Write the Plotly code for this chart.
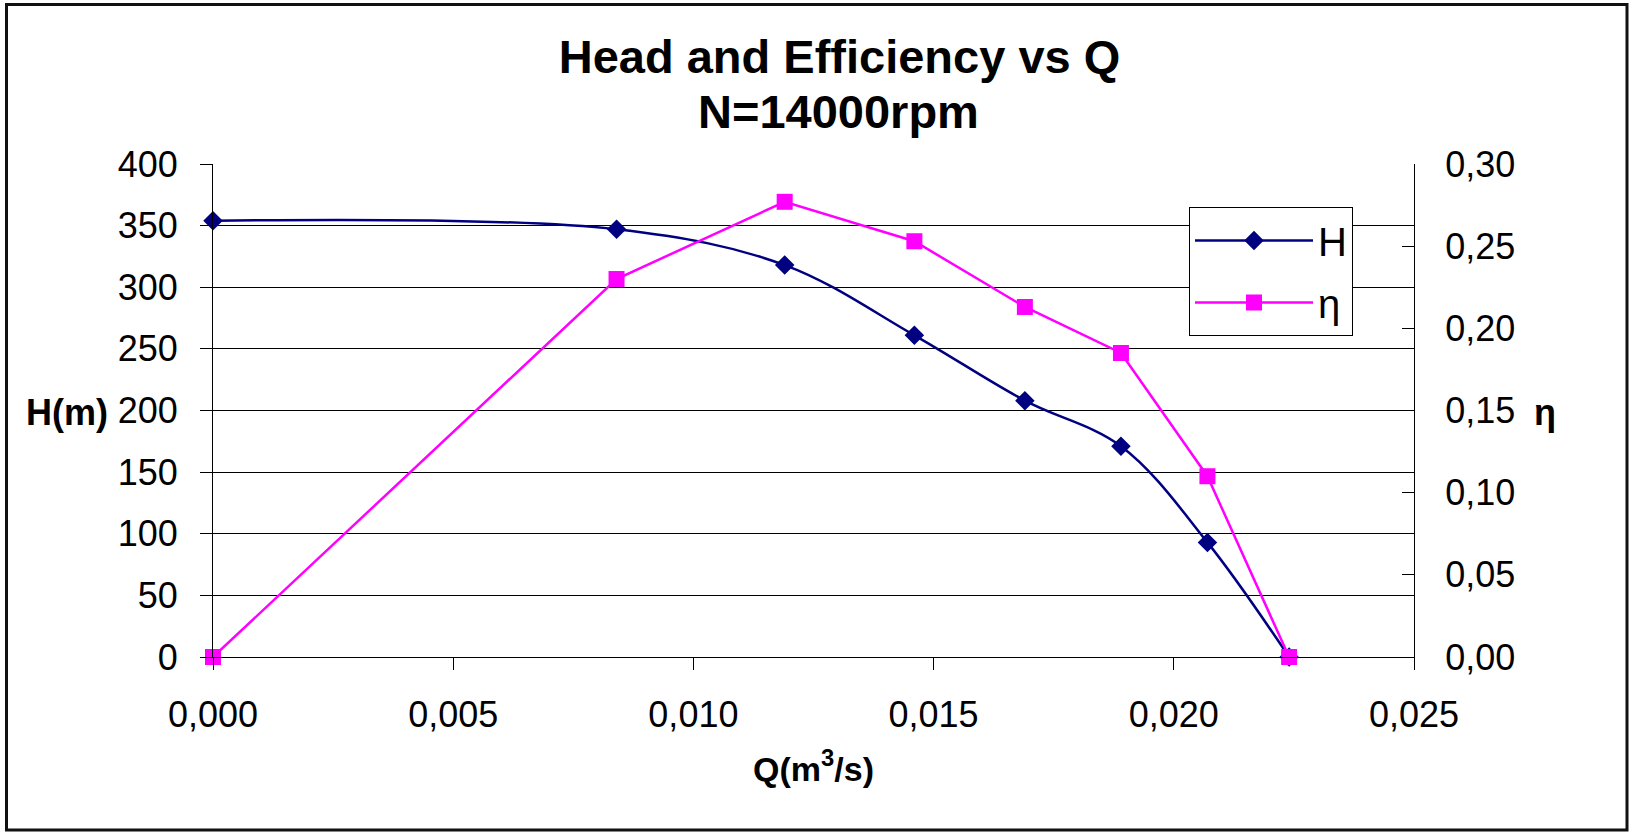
import plotly.graph_objects as go

# ---- data ----
Q = [0.0, 0.0084, 0.0119, 0.0146, 0.0169, 0.0189, 0.0207, 0.0224]
H = [354, 347, 318, 261, 208, 171, 93, 0]
ETA = [0.0, 0.230, 0.277, 0.253, 0.213, 0.185, 0.110, 0.0]

x_ticks = [0.000, 0.005, 0.010, 0.015, 0.020, 0.025]
h_ticks = [0, 50, 100, 150, 200, 250, 300, 350, 400]
eta_ticks = [0.00, 0.05, 0.10, 0.15, 0.20, 0.25, 0.30]

FONT = "Arial, Liberation Sans, sans-serif"
W, HGT = 1630, 835
L, R, T, B = 213, 216, 164, 178
PW, PH = W - L - R, HGT - T - B


def px_x(p):
    return (p - L) / PW


def px_y(p):
    return (HGT - B - p) / PH


fig = go.Figure()
fig.add_trace(go.Scatter(
    x=Q, y=H, name="H", mode="lines+markers",
    line=dict(color="#000080", width=2.5, shape="spline", smoothing=1.0),
    marker=dict(symbol="diamond", size=15, color="#000080"),
    cliponaxis=False, legendgroup="a",
))
fig.add_trace(go.Scatter(
    x=Q, y=ETA, name="η", mode="lines+markers", yaxis="y2",
    line=dict(color="#FF00FF", width=2.5),
    marker=dict(symbol="square", size=16, color="#FF00FF"),
    cliponaxis=False, legendgroup="b",
))

fig.update_layout(
    width=W, height=HGT,
    margin=dict(l=L, r=R, t=T, b=B, pad=0),
    paper_bgcolor="white", plot_bgcolor="white",
    separators=",.",
    font=dict(family=FONT, size=36, color="black"),
    showlegend=True,
    title=dict(
        text="<b>Head and Efficiency vs Q</b>",
        font=dict(family=FONT, size=47, color="black"),
        x=839.5 / W, xanchor="center", xref="container",
        y=1 - 57 / HGT, yanchor="middle", yref="container",
    ),
    xaxis=dict(
        range=[0, 0.025], tickvals=x_ticks, tickformat=".3f",
        showgrid=False, zeroline=False,
        showline=True, linecolor="black", linewidth=1,
        ticks="outside", ticklen=12, tickcolor="black", tickwidth=1,
        ticklabelstandoff=14,
        tickfont=dict(family=FONT, size=36, color="black"),
        title=dict(text="<b>Q(m<sup>3</sup>/s)</b>",
                   font=dict(family=FONT, size=34, color="black"),
                   standoff=22),
    ),
    yaxis=dict(
        range=[0, 400], tickvals=h_ticks,
        showgrid=True, gridcolor="black", gridwidth=1.2,
        zeroline=False,
        showline=True, linecolor="black", linewidth=1,
        ticks="outside", ticklen=12, tickcolor="black", tickwidth=1,
        ticklabelstandoff=15,
        tickfont=dict(family=FONT, size=36, color="black"),
    ),
    yaxis2=dict(
        range=[0, 0.30], tickvals=eta_ticks, tickformat=".2f",
        overlaying="y", side="right", anchor="x",
        showgrid=False, zeroline=False,
        showline=True, linecolor="black", linewidth=1,
        ticks="inside", ticklen=12, tickcolor="black", tickwidth=1,
        ticklabelstandoff=23,
        tickfont=dict(family=FONT, size=36, color="black"),
    ),
    legend=dict(
        x=px_x(1189), y=px_y(207), xanchor="left", yanchor="top",
        bgcolor="white", bordercolor="black", borderwidth=1,
        font=dict(family=FONT, size=40, color="black"),
        itemwidth=118, tracegroupgap=7, traceorder="grouped",
    ),
    annotations=[
        dict(text="<b>N=14000rpm</b>", x=px_x(838.5), y=px_y(112), xref="paper", yref="paper",
             showarrow=False, xanchor="center", yanchor="middle",
             font=dict(family=FONT, size=47, color="black")),
        dict(text="<b>H(m)</b>", x=px_x(66.5), y=px_y(412), xref="paper", yref="paper",
             showarrow=False, xanchor="center", yanchor="middle",
             font=dict(family=FONT, size=36, color="black")),
        dict(text="<b>η</b>", x=px_x(1545), y=px_y(412), xref="paper", yref="paper",
             showarrow=False, xanchor="center", yanchor="middle",
             font=dict(family=FONT, size=36, color="black")),
    ],
    shapes=[
        dict(type="rect", xref="paper", yref="paper",
             x0=px_x(6.5), x1=px_x(1627), y0=px_y(830), y1=px_y(4.5),
             line=dict(color="#111111", width=3), fillcolor="rgba(0,0,0,0)",
             layer="below"),
    ],
)

fig.write_html("out.html")
